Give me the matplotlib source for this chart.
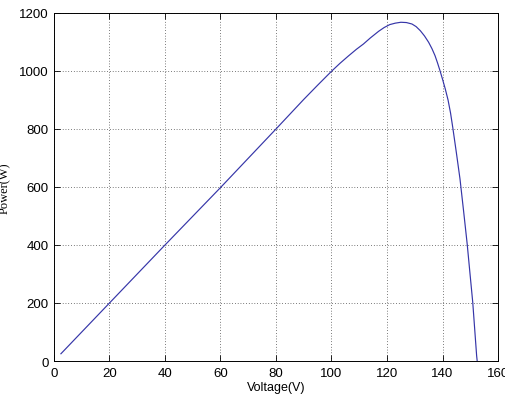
import matplotlib
matplotlib.use('Agg')

import matplotlib.pyplot as plt

# P-V curve
voltage = [2.5, 20, 40, 60, 80, 90, 95, 100, 103, 106, 109, 111.5, 114,
           117, 119, 121, 123, 125, 127, 129, 130.5, 132, 133.5, 135, 136.2,
           137.3, 138.2, 139.1, 140, 141, 142, 142.9, 143.7, 145, 146.3,
           147.6, 148.9, 149.9, 150.9, 151.6, 152.3, 152.5]
power = [25, 200, 400, 598, 800, 902, 951, 999, 1026, 1051, 1075, 1093,
         1114, 1137, 1150, 1160, 1165, 1168, 1167, 1162, 1153, 1139, 1121,
         1099, 1077, 1053, 1028, 1001, 972, 938, 900, 855, 805, 718, 628,
         517, 403, 302, 202, 110, 18, 0]

xticks = [0, 20, 40, 60, 80, 100, 120, 140, 160]
yticks = [0, 200, 400, 600, 800, 1000, 1200]

fig = plt.figure(figsize=(5.06, 4.02), dpi=100)
ax = fig.add_axes([0.1067, 0.0995, 0.8775, 0.8657])

ax.plot(voltage, power, color='#3535a8', linewidth=0.85)

ax.set_xlim(0, 160)
ax.set_ylim(0, 1200)
ax.set_xticks(xticks)
ax.set_yticks(yticks)

ax.grid(True, color='black', linestyle=(0, (1, 3)), linewidth=0.5)
ax.tick_params(direction='in', top=True, right=True, length=4, width=0.6,
               labelsize=9.5, pad=4)
for lab in ax.get_xticklabels() + ax.get_yticklabels():
    lab.set_family('Liberation Sans')
for s in ax.spines.values():
    s.set_linewidth(0.7)

ax.set_xlabel('Voltage(V)', family='Liberation Sans', fontsize=9, labelpad=2)
ax.set_ylabel('Power(W)', family='Liberation Serif', fontsize=9, labelpad=6)

plt.savefig('out.png', dpi=100)
